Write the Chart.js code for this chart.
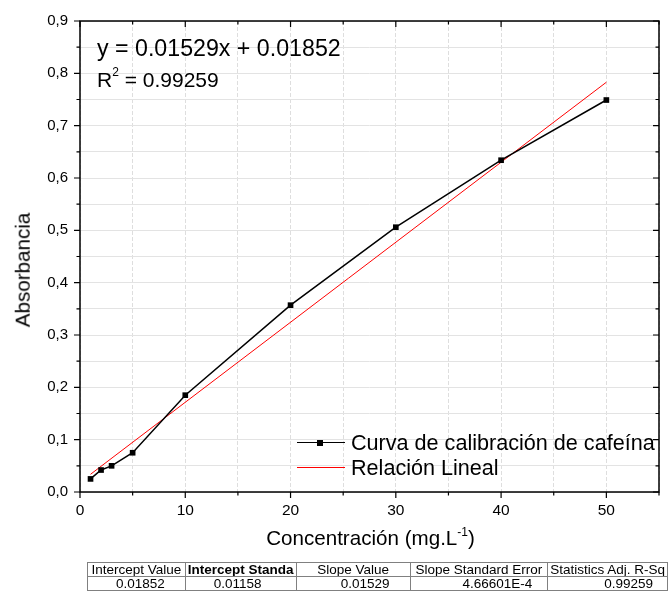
<!DOCTYPE html>
<html>
<head>
<meta charset="utf-8">
<script src="https://cdn.jsdelivr.net/npm/chart.js@4/dist/chart.umd.min.js"></script>
<style>
html,body{margin:0;padding:0;background:#fff;}
#wrap{position:relative;width:668px;height:591px;overflow:hidden;font-family:"Liberation Sans",Arial,sans-serif;color:#000;}
#c{position:absolute;left:0;top:0;}
.t{position:absolute;white-space:nowrap;line-height:1;}
.eq{left:97px;}
.eq sup{font-size:12px;position:relative;top:-3px;vertical-align:top;}
.leg{font-size:21.6px;left:351px;}
.legline{position:absolute;left:297px;width:48px;height:0;}
#xt{font-size:20.6px;left:0;width:741px;text-align:center;top:528px;}
#xt sup{font-size:12px;vertical-align:top;position:relative;top:-2px;}
#yt{font-size:20.6px;left:22.5px;top:270px;transform:translate(-50%,-50%) rotate(-90deg);}
table{position:absolute;left:87px;top:562px;border-collapse:collapse;font-size:13.5px;table-layout:fixed;}
td{border:1px solid #808080;height:13px;padding:0 2px;overflow:hidden;white-space:nowrap;line-height:13px;}
tr.h td{text-align:center;}
tr.v td{text-align:right;}
</style>
</head>
<body>
<div id="wrap">
<canvas id="c" width="668" height="591"></canvas>
<div class="t eq" style="top:37px;font-size:23.2px;">y = 0.01529x + 0.01852</div>
<div class="t eq" style="top:69px;font-size:21px;">R<sup>2</sup> = 0.99259</div>
<div class="legline" style="top:442px;border-top:1.5px solid #000;"></div>
<div style="position:absolute;left:317px;top:440px;width:6px;height:6px;background:#000;"></div>
<div class="legline" style="top:467px;border-top:1px solid #ff0000;"></div>
<div class="t leg" id="leg1" style="top:432px;"></div>
<div class="t leg" id="leg2" style="top:457px;"></div>
<div class="t" id="xt">Concentración (mg.L<sup>-1</sup>)</div>
<div class="t" id="yt">Absorbancia</div>
<table id="tbl"></table>
</div>
<script>
// ---- data ----
const seriesNames = ['Curva de calibración de cafeína', 'Relación Lineal'];
const concentration = [1, 2, 3, 5, 10, 20, 30, 40, 50];
const absorbance = [0.025, 0.042, 0.050, 0.075, 0.185, 0.357, 0.506, 0.634, 0.749];
const fitX = [1, 50];
const fitY = [0.0338, 0.7830];
const xTickLabels = ['0', '10', '20', '30', '40', '50'];
const yTickLabels = ['0,0', '0,1', '0,2', '0,3', '0,4', '0,5', '0,6', '0,7', '0,8', '0,9'];
const tableHeaders = ['Intercept Value', 'Intercept Standa', 'Slope Value', 'Slope Standard Error', 'Statistics Adj. R-Sq'];
const tableValues = ['0.01852', '0.01158', '0.01529', '4.66601E-4', '0.99259'];

document.getElementById('leg1').textContent = seriesNames[0];
document.getElementById('leg2').textContent = seriesNames[1];

// table
const colW = [98, 108, 117, 138, 119];
const valPad = [20, 34, 20, 15, 14];
const tbl = document.getElementById('tbl');
let cg = '<colgroup>' + colW.map(w => '<col style="width:' + w + 'px">').join('') + '</colgroup>';
let h = '<tr class="h">' + tableHeaders.map((t, i) => '<td' + (i === 1 ? ' style="font-weight:bold"' : '') + '>' + t + '</td>').join('') + '</tr>';
let v = '<tr class="v">' + tableValues.map((t, i) => '<td style="padding-right:' + valPad[i] + 'px">' + t + '</td>').join('') + '</tr>';
tbl.innerHTML = cg + h + v;

const FONT = "'Liberation Sans', Arial, sans-serif";

const framePlugin = {
  id: 'frame',
  afterDraw(chart) {
    const ctx = chart.ctx;
    const a = chart.chartArea;
    const xs = chart.scales.x, ys = chart.scales.y;
    ctx.save();
    ctx.strokeStyle = '#000';
    ctx.lineWidth = 1.5;
    ctx.beginPath();
    ctx.rect(a.left, a.top, a.right - a.left, a.bottom - a.top);
    ctx.stroke();
    ctx.lineWidth = 1.2;
    ctx.beginPath();
    for (let v = 0; v <= 55; v += 5) {
      const px = xs.getPixelForValue(v);
      const major = v % 10 === 0;
      const L = major ? 6 : 3.5;
      ctx.moveTo(px, a.bottom); ctx.lineTo(px, a.bottom + L);
      ctx.moveTo(px, a.top); ctx.lineTo(px, a.top + L);
    }
    for (let i = 0; i <= 18; i++) {
      const py = ys.getPixelForValue(i * 0.05);
      const major = i % 2 === 0;
      const L = major ? 6 : 3.5;
      ctx.moveTo(a.left, py); ctx.lineTo(a.left - L, py);
      ctx.moveTo(a.right, py); ctx.lineTo(a.right - L, py);
    }
    ctx.stroke();
    ctx.restore();
  }
};

new Chart(document.getElementById('c'), {
  type: 'line',
  data: {
    datasets: [
      {
        label: seriesNames[0],
        data: concentration.map((x, i) => ({x: x, y: absorbance[i]})),
        borderColor: '#000',
        backgroundColor: '#000',
        borderWidth: 1.5,
        pointStyle: 'rect',
        pointRadius: 4,
        pointBorderWidth: 0,
        tension: 0
      },
      {
        label: seriesNames[1],
        data: fitX.map((x, i) => ({x: x, y: fitY[i]})),
        borderColor: '#ff0000',
        backgroundColor: '#ff0000',
        borderWidth: 1,
        pointRadius: 0,
        tension: 0
      }
    ]
  },
  options: {
    responsive: false,
    animation: false,
    devicePixelRatio: 1,
    layout: {padding: {left: 0, top: 21, right: 7, bottom: 69}},
    plugins: {legend: {display: false}, tooltip: {enabled: false}},
    scales: {
      x: {
        type: 'linear', min: 0, max: 55,
        afterFit(s) { s.height = 30; },
        border: {display: false, dash: [4, 2]},
        grid: {color: '#dedede', lineWidth: 1, drawTicks: false},
        ticks: {
          stepSize: 5, padding: 9, color: '#000', maxRotation: 0, autoSkip: false,
          font: {family: FONT, size: 15.5},
          callback: (v) => (v % 10 === 0 ? xTickLabels[v / 10] : '')
        }
      },
      y: {
        type: 'linear', min: 0, max: 0.9,
        afterFit(s) { s.width = 80; },
        border: {display: false},
        grid: {color: '#e3e3e3', lineWidth: 1, drawTicks: false},
        ticks: {
          stepSize: 0.05, padding: 12, color: '#000', autoSkip: false,
          font: {family: FONT, size: 15},
          callback: (v) => {
            const k = Math.round(v * 100);
            return k % 10 === 0 ? yTickLabels[k / 10] : '';
          }
        }
      }
    }
  },
  plugins: [framePlugin]
});
</script>
</body>
</html>
